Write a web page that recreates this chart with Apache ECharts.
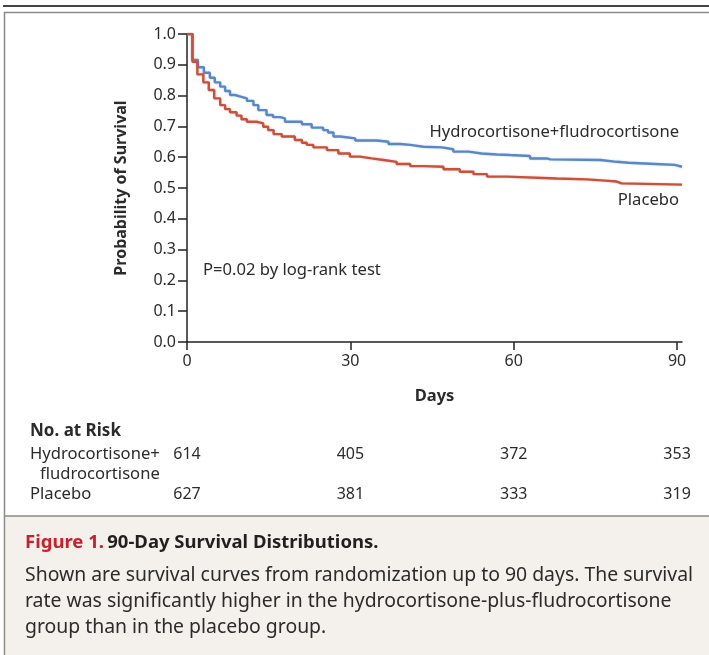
<!DOCTYPE html>
<html><head><meta charset="utf-8">
<script src="https://cdn.jsdelivr.net/npm/echarts@6/dist/echarts.min.js"></script>
<style>html,body{margin:0;padding:0;background:#fff}#c{width:709px;height:655px}</style>
</head><body><div id="c"></div>
<script>
// Kaplan-Meier step data [day, survival]
const hydroCurve = [[0,1.0],[1.0,0.916],[2.0,0.892],[3.1,0.874],[4.2,0.858],[5.1,0.843],[6.1,0.829],[7.0,0.815],[7.9,0.802],[8.8,0.796],[10.0,0.791],[11.0,0.783],[12.2,0.769],[13.1,0.753],[14.6,0.737],[15.8,0.730],[17.1,0.726],[18.0,0.715],[21.1,0.707],[22.9,0.696],[25.0,0.688],[25.9,0.680],[26.9,0.667],[28.1,0.661],[30.9,0.654],[34.8,0.650],[37.0,0.643],[39.1,0.640],[41.0,0.634],[43.4,0.632],[46.8,0.626],[48.9,0.618],[51.7,0.612],[54.1,0.609],[56.9,0.607],[59.3,0.604],[63.0,0.596],[66.1,0.593],[66.7,0.591],[75.9,0.585],[78.9,0.582],[81.1,0.578],[86.0,0.575],[89.6,0.569],[90.9,0.569]];
const placeboCurve = [[0,1.0],[1.0,0.910],[1.9,0.869],[3.0,0.843],[4.0,0.818],[5.0,0.791],[6.1,0.769],[7.0,0.756],[7.9,0.746],[9.1,0.735],[10.0,0.723],[11.0,0.715],[12.8,0.710],[14.0,0.699],[14.9,0.688],[15.9,0.675],[17.4,0.667],[19.8,0.656],[21.1,0.647],[22.0,0.640],[23.2,0.632],[25.7,0.623],[27.8,0.612],[29.9,0.602],[31.8,0.596],[33.9,0.591],[36.1,0.585],[38.5,0.578],[41.0,0.571],[43.4,0.569],[47.1,0.561],[50.1,0.553],[52.6,0.545],[55.1,0.537],[58.7,0.531],[67.9,0.528],[73.4,0.524],[76.8,0.521],[78.9,0.515],[79.8,0.511],[90.9,0.511]];
const xTicks = [0, 30, 60, 90];
const riskDays = [0, 30, 60, 90];
const riskHydro = [614, 405, 372, 353];
const riskPlacebo = [627, 381, 333, 319];
const hydroName = 'Hydrocortisone+fludrocortisone';
const placeboName = 'Placebo';

const FONT = '"Noto Sans"';
const TXT = '#2b2b2b';
const chart = echarts.init(document.getElementById('c'), null, {renderer:'canvas'});
const riskData = [];
riskDays.forEach((d,i)=>{
  riskData.push([d,1,riskHydro[i]]);
  riskData.push([d,0,riskPlacebo[i]]);
});

chart.setOption({
  animation:false,
  backgroundColor:'#fff',
  grid:[
    {left:187, right:27, top:34, height:308},
    {left:187, right:27, top:454, height:40}
  ],
  xAxis:[
    {gridIndex:0, type:'value', min:0, max:90.9,
     name:'Days', nameLocation:'middle', nameGap:46,
     nameTextStyle:{fontFamily:FONT, fontWeight:'bold', fontSize:16.5, color:TXT},
     axisLine:{lineStyle:{color:'#222', width:1.5}},
     axisTick:{show:true, length:8, customValues:xTicks, lineStyle:{color:'#222', width:1.5}},
     axisLabel:{customValues:xTicks, fontFamily:FONT, fontSize:16, color:TXT, margin:11},
     splitLine:{show:false}},
    {gridIndex:1, type:'value', min:0, max:90.9, show:false}
  ],
  yAxis:[
    {gridIndex:0, type:'value', min:0, max:1, interval:0.1,
     name:'Probability of Survival', nameLocation:'middle', nameGap:58, nameRotate:90,
     nameTextStyle:{fontFamily:FONT, fontWeight:'bold', fontSize:16, color:TXT},
     axisLine:{show:true, lineStyle:{color:'#222', width:1.5}},
     axisTick:{show:true, length:9, lineStyle:{color:'#222', width:1.5}},
     axisLabel:{fontFamily:FONT, fontSize:16, color:TXT, margin:11, formatter:v=>v.toFixed(1)},
     splitLine:{show:false}},
    {gridIndex:1, type:'value', min:0, max:1, show:false}
  ],
  series:[
    {name:hydroName, type:'line', step:'end', data:hydroCurve, showSymbol:false, xAxisIndex:0, yAxisIndex:0,
     lineStyle:{color:'#5a87c6', width:2.4, shadowColor:'rgba(90,135,198,0.35)', shadowBlur:2}, z:3},
    {name:placeboName, type:'line', step:'end', data:placeboCurve, showSymbol:false, xAxisIndex:0, yAxisIndex:0,
     lineStyle:{color:'#c9503a', width:2.4, shadowColor:'rgba(201,80,58,0.35)', shadowBlur:2}, z:4},
    {type:'scatter', xAxisIndex:1, yAxisIndex:1, data:riskData, symbol:'circle', symbolSize:2,
     itemStyle:{color:'#fff', opacity:1},
     label:{show:true, position:'inside', formatter:p=>String(p.value[2]), fontFamily:FONT, fontSize:16,
            color:TXT, opacity:1, textBorderWidth:0, textShadowBlur:0}}
  ],
  graphic:[
    {type:'line', shape:{x1:3,y1:6,x2:709,y2:6}, style:{stroke:'#444', lineWidth:2}, z:-1},
    {type:'rect', shape:{x:4.5,y:12.5,width:720,height:660}, style:{fill:'none', stroke:'#8a8a8a', lineWidth:1.5}, z:-1},
    {type:'rect', shape:{x:5.5,y:516,width:710,height:150}, style:{fill:'#f4f1ec', stroke:'none'}, z:-2},
    {type:'line', shape:{x1:4,y1:516,x2:709,y2:516}, style:{stroke:'#8a8a8a', lineWidth:1.5}, z:-1},
    {type:'text', x:679, y:132, style:{text:hydroName, font:'16.6px '+FONT, fill:TXT, align:'right', verticalAlign:'middle'}},
    {type:'text', x:679, y:200, style:{text:placeboName, font:'16.6px '+FONT, fill:TXT, align:'right', verticalAlign:'middle'}},
    {type:'text', x:203, y:270, style:{text:'P=0.02 by log-rank test', font:'16.6px '+FONT, fill:TXT, align:'left', verticalAlign:'middle'}},
    {type:'text', x:30, y:431, style:{text:'No. at Risk', font:'bold 17px '+FONT, fill:TXT, verticalAlign:'middle'}},
    {type:'text', x:30, y:454, style:{text:'Hydrocortisone+', font:'16.6px '+FONT, fill:TXT, verticalAlign:'middle'}},
    {type:'text', x:40, y:474, style:{text:'fludrocortisone', font:'16.6px '+FONT, fill:TXT, verticalAlign:'middle'}},
    {type:'text', x:30, y:494, style:{text:'Placebo', font:'16.6px '+FONT, fill:TXT, verticalAlign:'middle'}},
    {type:'text', x:25, y:543, style:{text:'{r|Figure 1.} {b|90-Day Survival Distributions.}', verticalAlign:'middle',
      rich:{r:{fill:'#c8202c', font:'bold 18.5px '+FONT}, b:{fill:'#231f20', font:'bold 18.5px '+FONT}}}},
    {type:'text', x:25, y:575, style:{text:'Shown are survival curves from randomization up to 90 days. The survival', font:'19.4px '+FONT, fill:TXT, verticalAlign:'middle'}},
    {type:'text', x:25, y:601, style:{text:'rate was significantly higher in the hydrocortisone-plus-fludrocortisone', font:'19.4px '+FONT, fill:TXT, verticalAlign:'middle'}},
    {type:'text', x:25, y:627, style:{text:'group than in the placebo group.', font:'19.4px '+FONT, fill:TXT, verticalAlign:'middle'}}
  ]
});
</script></body></html>
